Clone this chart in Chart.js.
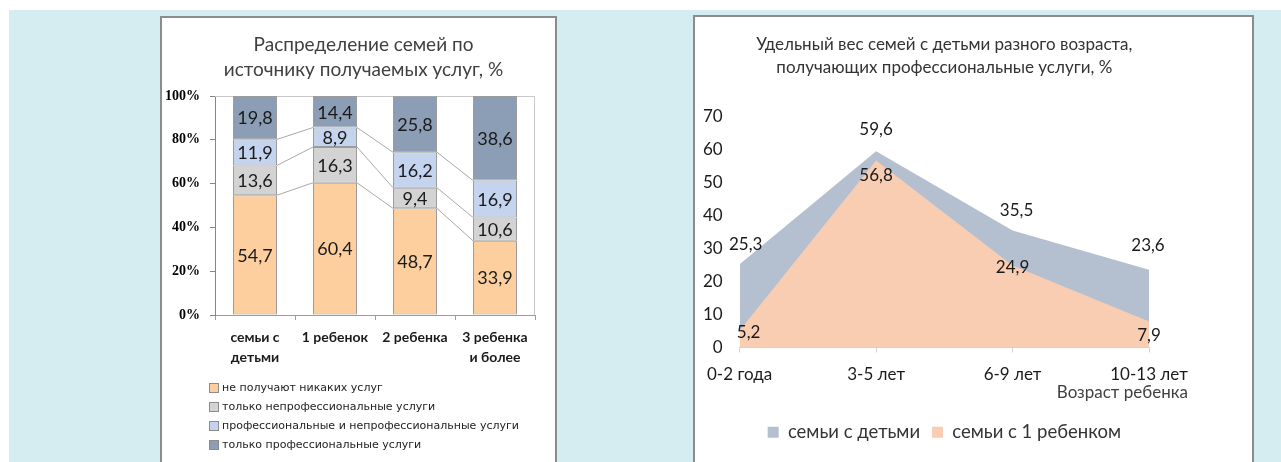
<!DOCTYPE html>
<html lang="ru">
<head>
<meta charset="utf-8">
<title>Семьи и услуги</title>
<script src="https://cdn.jsdelivr.net/npm/chart.js@4.4.1/dist/chart.umd.min.js"></script>
<style>
    html, body { margin: 0; padding: 0; background: #fff; }
    body { width: 1281px; height: 462px; position: relative; overflow: hidden; }
    .bg { position: absolute; left: 9px; top: 10px; right: 0; bottom: 0; background: #d5edf0; }
    .panel { position: absolute; background: #fff; border: 2px solid #8c8c8c; border-bottom: none; }
    #panel-left { left: 160px; top: 16px; width: 393px; height: 446px; }
    #panel-right { left: 693px; top: 15px; width: 557px; height: 447px; }
    canvas { display: block; position: relative; }
</style>
</head>
<body>
<div class="bg"></div>
<!-- left canvas is 10px wider than its panel (transparent there) so the title centres like the original -->
<div class="panel" id="panel-left"><canvas id="servicesChart" width="403" height="444"></canvas></div>
<div class="panel" id="panel-right"><canvas id="ageChart" width="557" height="445"></canvas></div>

<script>
// ===========================
// DATA
// ===========================

const groupLabels = [["семьи с", "детьми"], "1 ребенок", "2 ребенка", ["3 ребенка", "и более"]];
const serviceNames = [
    "не получают никаких услуг",
    "только непрофессиональные услуги",
    "профессиональные и непрофессиональные услуги",
    "только профессиональные услуги"
];
const noServices = [54.7, 60.4, 48.7, 33.9];
const nonProfOnly = [13.6, 16.3, 9.4, 10.6];
const profAndNonProf = [11.9, 8.9, 16.2, 16.9];
const profOnly = [19.8, 14.4, 25.8, 38.6];
const percentTicks = [0, 20, 40, 60, 80, 100];

const ageGroups = ["0-2 года", "3-5 лет", "6-9 лет", "10-13 лет"];
const ageSeriesNames = ["семьи с детьми", "семьи с 1 ребенком"];
const familiesWithChildren = [25.3, 59.6, 35.5, 23.6];
const familiesOneChild = [5.2, 56.8, 24.9, 7.9];
const valueTicks = [0, 10, 20, 30, 40, 50, 60, 70];

// ===========================
// STYLE
// ===========================

const barColors = ["#fdcf9e", "#d3d3d3", "#c4d3ee", "#8c9eb6"];
const areaColors = ["#b4bfcf", "#f9cdb1"];
const textColor = "#1a1a1a";

// label offsets (px) from each area point, as placed in the original
const upperLabelShift = [[6, -20], [0, -22], [4, -20], [-1, -24]];
const lowerLabelShift = [[9, 2], [0, 15], [0, 2], [0, 14]];

// ===========================
// HELPER
// ===========================

function formatComma(value) {
    return value.toFixed(1).replace(".", ",");
}

// ===========================
// LEFT CHART
// ===========================

const stackPlugin = {
    id: "stackExtras",
    beforeDatasetsDraw(chart) {
        const { ctx, chartArea } = chart;
        ctx.save();

        // plot area frame (top / right)
        ctx.strokeStyle = "#c8c8c8";
        ctx.lineWidth = 1;
        ctx.beginPath();
        ctx.moveTo(chartArea.left, chartArea.top + 0.5);
        ctx.lineTo(chartArea.right - 0.5, chartArea.top + 0.5);
        ctx.lineTo(chartArea.right - 0.5, chartArea.bottom);
        ctx.stroke();

        // series lines between bars
        ctx.strokeStyle = "#a8a8a8";
        ctx.beginPath();
        for (let d = 0; d < chart.data.datasets.length - 1; d++) {
            const bars = chart.getDatasetMeta(d).data;
            for (let i = 0; i < bars.length - 1; i++) {
                const a = bars[i];
                const b = bars[i + 1];
                ctx.moveTo(a.x + a.width / 2, a.y);
                ctx.lineTo(b.x - b.width / 2, b.y);
            }
        }
        ctx.stroke();
        ctx.restore();
    },
    afterDatasetsDraw(chart) {
        const { ctx } = chart;
        ctx.save();
        ctx.font = "18px Lato";
        ctx.fillStyle = textColor;
        ctx.textAlign = "center";
        ctx.textBaseline = "middle";
        chart.data.datasets.forEach((ds, d) => {
            chart.getDatasetMeta(d).data.forEach((bar, i) => {
                ctx.fillText(formatComma(ds.data[i]), bar.x, (bar.y + bar.base) / 2 + 1);
            });
        });
        ctx.restore();
    },
    afterDraw(chart) {
        // vertical legend under the chart
        const { ctx, chartArea } = chart;
        ctx.save();
        ctx.font = "11px 'DejaVu Sans'";
        ctx.textBaseline = "middle";
        chart.data.datasets.forEach((ds, d) => {
            const x = chartArea.left - 6;
            const y = chartArea.bottom + 73 + d * 19;
            ctx.fillStyle = ds.backgroundColor;
            ctx.fillRect(x, y - 5, 10, 10);
            ctx.strokeStyle = "#8c8c8c";
            ctx.strokeRect(x + 0.5, y - 4.5, 9, 9);
            ctx.fillStyle = "#222";
            ctx.fillText(ds.label, x + 13, y);
        });
        ctx.restore();
    }
};

new Chart(document.getElementById("servicesChart"), {
    type: "bar",
    data: {
        labels: groupLabels,
        datasets: [noServices, nonProfOnly, profAndNonProf, profOnly].map((values, i) => ({
            label: serviceNames[i],
            data: values,
            backgroundColor: barColors[i],
            borderColor: "#9c9c9c",
            borderWidth: 1,
            borderSkipped: false
        }))
    },
    options: {
        responsive: false,
        animation: false,
        layout: { padding: { left: 0, right: 0, top: 0, bottom: 87 } },
        datasets: { bar: { categoryPercentage: 1, barPercentage: 0.55 } },
        plugins: {
            legend: { display: false },
            tooltip: { enabled: false },
            title: {
                display: true,
                text: ["Распределение семей по", "источнику получаемых услуг, %"],
                color: "#404040",
                font: { family: "Lato", size: 19, weight: "normal", lineHeight: 25 / 19 },
                padding: { top: 14.5, bottom: 13.5 }
            }
        },
        scales: {
            x: {
                stacked: true,
                afterFit: scale => { scale.height = 60; },
                grid: { drawOnChartArea: false, tickLength: 5, color: "#9c9c9c" },
                border: { color: "#9c9c9c" },
                ticks: {
                    color: textColor,
                    padding: 7,
                    maxRotation: 0,
                    autoSkip: false,
                    font: { family: "Lato", size: 14, weight: "bold", lineHeight: 20 / 14 }
                }
            },
            y: {
                stacked: true,
                min: 0,
                max: 100,
                afterBuildTicks: scale => { scale.ticks = percentTicks.map(v => ({ value: v })); },
                afterFit: scale => { scale.width = 53; },
                grid: { drawOnChartArea: false, tickLength: 5, color: "#868686" },
                border: { color: "#868686" },
                ticks: {
                    color: "#000",
                    padding: 10,
                    font: { family: "'Liberation Serif'", size: 14, weight: "bold" },
                    callback: v => v + "%"
                }
            },
            // empty right-hand margin
            spacer: {
                type: "linear",
                position: "right",
                display: true,
                afterFit: scale => { scale.width = 30; },
                grid: { display: false, drawTicks: false },
                border: { display: false },
                ticks: { display: false }
            }
        }
    },
    plugins: [stackPlugin]
});

// ===========================
// RIGHT CHART
// ===========================

const areaPlugin = {
    id: "areaExtras",
    afterDatasetsDraw(chart) {
        const { ctx, chartArea } = chart;
        const shifts = [upperLabelShift, lowerLabelShift];
        ctx.save();
        ctx.font = "17px Lato";
        ctx.fillStyle = textColor;
        ctx.textAlign = "center";
        ctx.textBaseline = "middle";
        chart.data.datasets.forEach((ds, d) => {
            chart.getDatasetMeta(d).data.forEach((pt, i) => {
                const [dx, dy] = shifts[d][i];
                ctx.fillText(formatComma(ds.data[i]), pt.x + dx, pt.y + dy);
            });
        });

        // axis title "Возраст ребенка", right side under the labels
        ctx.fillStyle = "#404040";
        ctx.textAlign = "right";
        ctx.fillText("Возраст ребенка", chartArea.right + 39, chartArea.bottom + 45);
        ctx.restore();
    }
};

new Chart(document.getElementById("ageChart"), {
    type: "line",
    data: {
        labels: ageGroups,
        datasets: [
            {
                label: ageSeriesNames[0],
                data: familiesWithChildren,
                backgroundColor: areaColors[0],
                fill: "origin",
                order: 2
            },
            {
                label: ageSeriesNames[1],
                data: familiesOneChild,
                backgroundColor: areaColors[1],
                fill: "origin",
                order: 1
            }
        ]
    },
    options: {
        responsive: false,
        animation: false,
        layout: { padding: { left: 0, right: 103, top: 0, bottom: 10.5 } },
        elements: {
            line: { tension: 0, borderWidth: 0 },
            point: { radius: 0 }
        },
        plugins: {
            tooltip: { enabled: false },
            title: {
                display: true,
                fullSize: false,
                text: ["Удельный вес семей с детьми разного возраста,", "получающих профессиональные услуги, %"],
                color: "#333",
                font: { family: "Lato", size: 17, weight: "normal", lineHeight: 23 / 17 },
                padding: { top: 16.5, bottom: 37.5 }
            },
            legend: {
                position: "bottom",
                fullSize: false,
                labels: {
                    color: "#333",
                    boxWidth: 11,
                    boxHeight: 11,
                    padding: 12,
                    font: { family: "Lato", size: 18.5 },
                    sort: (a, b) => a.datasetIndex - b.datasetIndex
                }
            }
        },
        scales: {
            x: {
                afterFit: scale => { scale.height = 63.5; },
                grid: { drawOnChartArea: false, tickLength: 5, color: "#d4d4d4" },
                border: { color: "#d4d4d4" },
                ticks: {
                    color: textColor,
                    padding: 12,
                    maxRotation: 0,
                    font: { family: "Lato", size: 17 }
                }
            },
            y: {
                min: 0,
                max: 70,
                afterBuildTicks: scale => { scale.ticks = valueTicks.map(v => ({ value: v })); },
                afterFit: scale => { scale.width = 44; },
                grid: { display: false, drawTicks: false },
                border: { display: false },
                ticks: {
                    color: textColor,
                    padding: 17,
                    font: { family: "Lato", size: 17 }
                }
            }
        }
    },
    plugins: [areaPlugin]
});
</script>
</body>
</html>
